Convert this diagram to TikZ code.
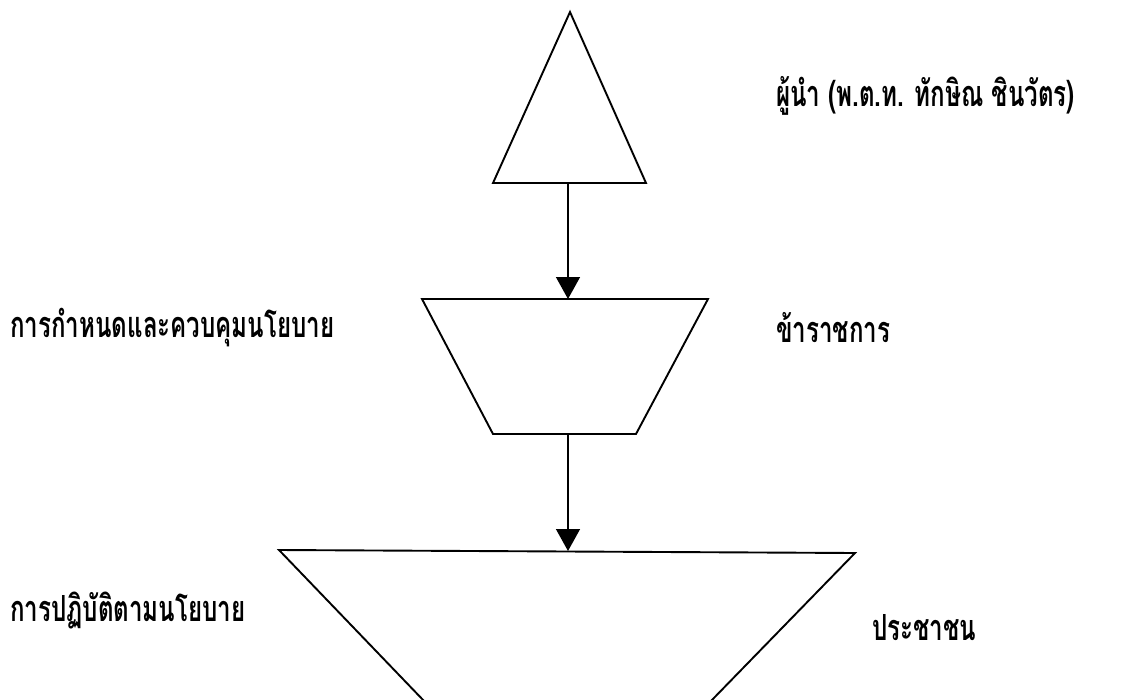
\documentclass[tikz,border=0pt]{standalone}
\usepackage{fontspec}
\newfontfamily\thaifont[Script=Thai, FakeStretch=0.67]{Loma}
\usetikzlibrary{arrows.meta}
\begin{document}
\begin{tikzpicture}[x=1pt,y=-1pt,
  shapeline/.style={line width=1.9pt, line join=miter},
  conn/.style={line width=1.4pt, -{Triangle[length=22pt,width=24pt]}},
  lbl/.style={anchor=base west, inner sep=0pt, font=\thaifont\bfseries\fontsize{36}{40}\selectfont}]
\useasboundingbox (0,0) rectangle (1122,699);
\begin{scope}
\clip (0,0) rectangle (1122,699);
% triangle
\draw[shapeline] (570,12) -- (646,183) -- (493,183) -- cycle;
% middle trapezoid
\draw[shapeline] (422,299) -- (708,299) -- (636,434) -- (493,434) -- cycle;
% bottom trapezoid (cut by the page edge)
\draw[shapeline] (425,702) -- (279,550) -- (855,553) -- (710,702);
\end{scope}
\coordinate (t1) at (568,183);
\coordinate (m1) at (568,299);
\coordinate (m2) at (568,434);
\coordinate (b1) at (568,551);
\draw[conn] (t1) -- (m1);
\draw[conn] (m2) -- (b1);
\node[lbl] (leader) at (776,106) {ผู้นำ (พ.ต.ท. ทักษิณ ชินวัตร)};
\node[lbl] (policy) at (10,337) {การกำหนดและควบคุมนโยบาย};
\node[lbl] (official) at (776,342) {ข้าราชการ};
\node[lbl] (practice) at (10,621) {การปฏิบัติตามนโยบาย};
\node[lbl] (people) at (872,640) {ประชาชน};
\end{tikzpicture}
\end{document}
